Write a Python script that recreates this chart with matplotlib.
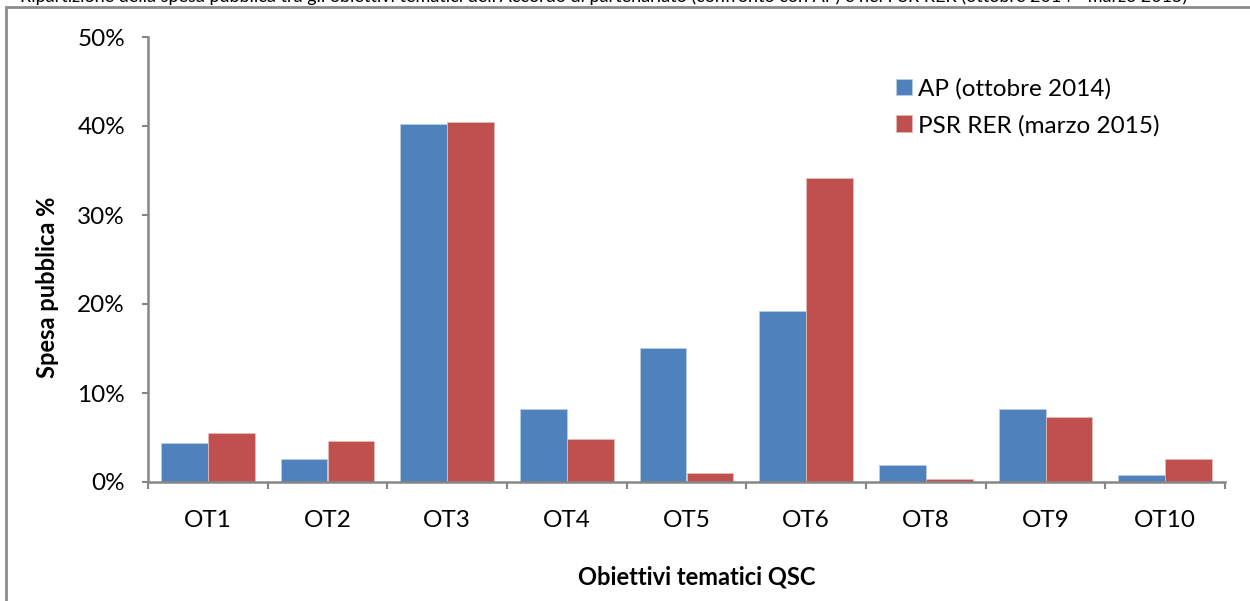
import matplotlib.pyplot as plt
import numpy as np
from matplotlib.patches import Rectangle
from matplotlib.ticker import PercentFormatter

plt.rcParams['font.family'] = ['Lato', 'DejaVu Sans']

categories = ['OT1', 'OT2', 'OT3', 'OT4', 'OT5', 'OT6', 'OT8', 'OT9', 'OT10']
ap_values = [4.4, 2.6, 40.2, 8.2, 15.1, 19.2, 1.9, 8.2, 0.8]
psr_values = [5.5, 4.6, 40.4, 4.8, 1.0, 34.2, 0.35, 7.3, 2.6]
series_labels = ['AP (ottobre 2014)', 'PSR RER (marzo 2015)']
title_text = ("Ripartizione della spesa pubblica tra gli obiettivi tematici dell'Accordo di "
              "partenariato (confronto con AP) e nel PSR RER (ottobre 2014 - marzo 2015)")

blue = '#4F81BD'
red = '#C0504D'
grey = '#868686'

fig = plt.figure(figsize=(12.5, 6.01), dpi=100)
ax = fig.add_axes([148 / 1250, 119 / 601, 1077 / 1250, 445 / 601])

# chart border (Excel chart area), title is cut at the top in the source
fig.patches.append(Rectangle((6 / 1250, -0.05), 1.1, (601 - 7) / 601 + 0.05,
                             transform=fig.transFigure, fill=False,
                             edgecolor='#8C8C8C', linewidth=2))
fig.text(20 / 1250, 1 - 2 / 601, title_text, fontsize=13, va='baseline', ha='left')

x = np.arange(len(categories))
w = 0.39
ax.bar(x - w / 2, ap_values, w, color=blue, edgecolor='#B9CDE5', linewidth=0.6,
       label=series_labels[0])
ax.bar(x + w / 2, psr_values, w, color=red, edgecolor='#E6B9B8', linewidth=0.6,
       label=series_labels[1])

ax.set_xlim(-0.5, len(categories) - 0.5)
ax.set_ylim(0, 50)
ax.set_yticks(range(0, 51, 10))
ax.yaxis.set_major_formatter(PercentFormatter(decimals=0))
ax.set_xticks(x)
ax.set_xticklabels(categories)
ax.set_xticks(np.arange(-0.5, len(categories), 1), minor=True)
ax.tick_params(axis='x', which='major', length=0, pad=20.5, labelsize=17.5)
ax.tick_params(axis='x', which='minor', length=5, width=1.5, color=grey)
ax.tick_params(axis='y', length=4.5, width=1.5, color=grey, pad=12, labelsize=17.5)

for s in ['top', 'right']:
    ax.spines[s].set_visible(False)
for s in ['left', 'bottom']:
    ax.spines[s].set_color(grey)
    ax.spines[s].set_linewidth(1.8)

ax.set_ylabel('Spesa pubblica %', fontsize=17, fontweight='bold')
ax.yaxis.set_label_coords((59 - 148) / 1077, (482 - 287) / 445)
ax.set_xlabel('Obiettivi tematici QSC', fontsize=17, fontweight='bold')
ax.xaxis.set_label_coords((697 - 148) / 1077, (482 - 565) / 445)

ax.legend(loc='upper left', bbox_to_anchor=((896 - 148) / 1077, (482 - 78) / 445),
          borderpad=0, borderaxespad=0, frameon=False, fontsize=17.5,
          handlelength=0.65, handleheight=0.65, handletextpad=0.25, labelspacing=0.62)

fig.savefig('out.png', dpi=100)
